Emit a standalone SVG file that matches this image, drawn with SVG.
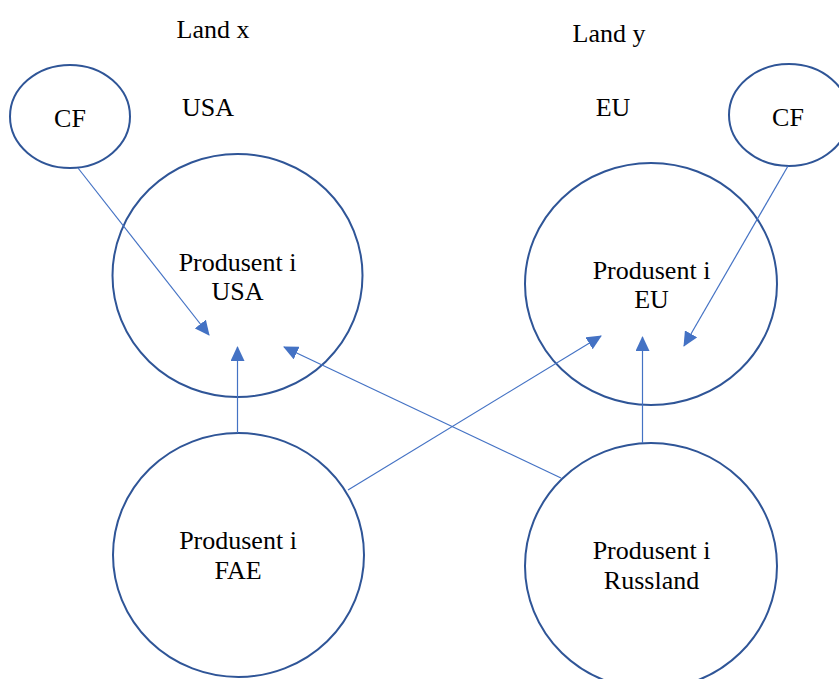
<svg xmlns="http://www.w3.org/2000/svg" width="839" height="679" viewBox="0 0 839 679">
<style>
  .node { fill: #ffffff; stroke: #2F5597; stroke-width: 2; }
  .lbl { font-family: "Liberation Serif", "Times New Roman", serif; font-size: 26px; fill: #000000; text-anchor: middle; }
  .conn { stroke: #4472C4; stroke-width: 1.2; fill: none; marker-end: url(#arrow); }
</style>
<defs>
  <marker id="arrow" markerUnits="userSpaceOnUse" markerWidth="15" markerHeight="14" refX="14" refY="7" orient="auto">
    <path d="M0,0 L15,7 L0,14 Z" fill="#4472C4"/>
  </marker>
</defs>
<rect width="839" height="679" fill="#ffffff"/>
<g id="headers">
  <text class="lbl" x="213" y="38">Land x</text>
  <text class="lbl" x="609" y="42">Land y</text>
  <text class="lbl" x="208" y="116">USA</text>
  <text class="lbl" x="613" y="116">EU</text>
</g>
<g id="node-cf-left">
  <ellipse class="node" cx="70" cy="116.5" rx="60" ry="51.5"/>
  <text class="lbl" x="70" y="127">CF</text>
</g>
<g id="node-cf-right">
  <ellipse class="node" cx="789" cy="115" rx="60" ry="51"/>
  <text class="lbl" x="788" y="126">CF</text>
</g>
<g id="node-usa">
  <ellipse class="node" cx="237.5" cy="275.5" rx="125" ry="121.5"/>
  <text class="lbl" x="237.5" y="271">Produsent i</text>
  <text class="lbl" x="237.5" y="300">USA</text>
</g>
<g id="node-eu">
  <ellipse class="node" cx="651" cy="284" rx="126" ry="121"/>
  <text class="lbl" x="651.5" y="279">Produsent i</text>
  <text class="lbl" x="651.5" y="308">EU</text>
</g>
<g id="node-fae">
  <ellipse class="node" cx="238.5" cy="555" rx="125.5" ry="122"/>
  <text class="lbl" x="238" y="549">Produsent i</text>
  <text class="lbl" x="238" y="579">FAE</text>
</g>
<g id="node-russland">
  <ellipse class="node" cx="651" cy="566" rx="126" ry="123"/>
  <text class="lbl" x="651.5" y="559">Produsent i</text>
  <text class="lbl" x="651.5" y="589">Russland</text>
</g>
<g id="connectors">
  <line class="conn" x1="78" y1="168" x2="209" y2="335"/>
  <line class="conn" x1="237.5" y1="433" x2="237.5" y2="347"/>
  <line class="conn" x1="561" y1="478" x2="284" y2="347"/>
  <line class="conn" x1="348" y1="490" x2="601" y2="336"/>
  <line class="conn" x1="642.5" y1="443" x2="642.5" y2="337"/>
  <line class="conn" x1="788" y1="166" x2="684" y2="346"/>
</g>
</svg>
